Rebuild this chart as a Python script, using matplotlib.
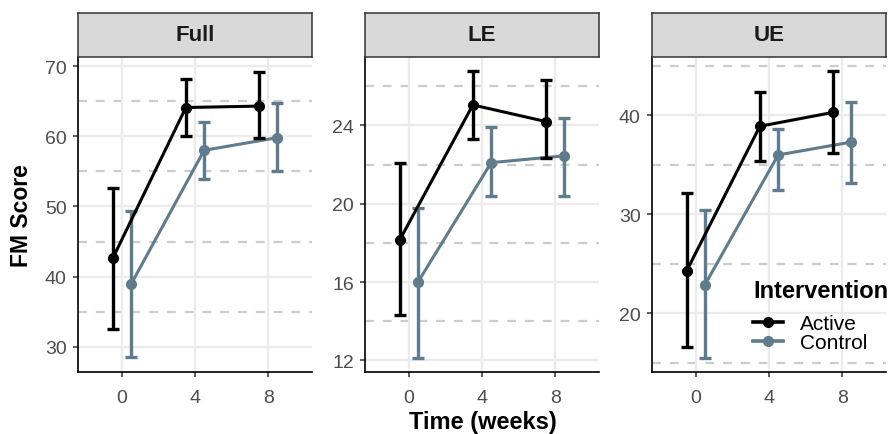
import matplotlib.pyplot as plt
from matplotlib.lines import Line2D

plt.rcParams['font.family'] = ['Liberation Sans', 'DejaVu Sans']

# data
weeks = [0, 4, 8]
panels = ["Full", "LE", "UE"]

full_active = [42.6, 64.1, 64.3]
full_active_lo = [32.5, 60.1, 59.8]
full_active_hi = [52.6, 68.2, 69.2]
full_control = [38.9, 58.0, 59.8]
full_control_lo = [28.5, 53.9, 55.0]
full_control_hi = [49.4, 62.1, 64.7]

le_active = [18.15, 25.05, 24.2]
le_active_lo = [14.3, 23.3, 22.35]
le_active_hi = [22.1, 26.8, 26.3]
le_control = [16.0, 22.1, 22.45]
le_control_lo = [12.1, 20.4, 20.4]
le_control_hi = [19.8, 23.9, 24.4]

ue_active = [24.3, 38.9, 40.3]
ue_active_lo = [16.6, 35.4, 36.2]
ue_active_hi = [32.2, 42.4, 44.5]
ue_control = [22.9, 36.0, 37.3]
ue_control_lo = [15.5, 32.5, 33.2]
ue_control_hi = [30.4, 38.65, 41.4]

ylims = [(26.4, 71.3), (11.4, 27.5), (14.06, 45.9)]
major = [[30, 40, 50, 60, 70], [12, 16, 20, 24], [20, 30, 40]]
minor = [[35, 45, 55, 65], [14, 18, 22, 26], [15, 25, 35, 45]]

groups = [
    (full_active, full_active_lo, full_active_hi, full_control, full_control_lo, full_control_hi),
    (le_active, le_active_lo, le_active_hi, le_control, le_control_lo, le_control_hi),
    (ue_active, ue_active_lo, ue_active_hi, ue_control, ue_control_lo, ue_control_hi),
]

ACTIVE = "#000000"
CONTROL = "#5F7B8C"
dodge = 0.5

fig = plt.figure(figsize=(8.91, 4.35), dpi=100)

lefts = [78, 365, 652]
W, H = 891, 435
pw = 234
ptop, pbot = 58, 373
stop = 14

for i, left in enumerate(lefts):
    ax = fig.add_axes([left / W, 1 - pbot / H, pw / W, (pbot - ptop) / H])
    a, alo, ahi, c, clo, chi = groups[i]

    for y in major[i]:
        ax.axhline(y, color="#EBEBEB", lw=1.6, zorder=0)
    for y in minor[i]:
        ax.axhline(y, color="#CCCCCC", lw=1.6, ls=(0, (4, 4)), zorder=0)
    for x in weeks:
        ax.axvline(x, color="#EBEBEB", lw=1.6, zorder=0)

    xa = [w - dodge for w in weeks]
    xc = [w + dodge for w in weeks]
    ax.errorbar(xa, a, yerr=[[m - l for m, l in zip(a, alo)], [h - m for m, h in zip(a, ahi)]],
                fmt="o-", color=ACTIVE, lw=2.2, ms=7, elinewidth=2.4, capsize=4, capthick=2.4, zorder=3)
    ax.errorbar(xc, c, yerr=[[m - l for m, l in zip(c, clo)], [h - m for m, h in zip(c, chi)]],
                fmt="o-", color=CONTROL, lw=2.2, ms=7, elinewidth=2.4, capsize=4, capthick=2.4, zorder=2)

    ax.set_xlim(-2.4, 10.4)
    ax.set_ylim(*ylims[i])
    ax.set_xticks(weeks)
    ax.set_yticks(major[i])
    ax.tick_params(colors="#333333", labelcolor="#4D4D4D", labelsize=14, length=3.6, width=1.1, pad=4.5)
    ax.tick_params(axis="x", pad=8.5)
    for s in ["top", "right"]:
        ax.spines[s].set_visible(False)
    for s in ["left", "bottom"]:
        ax.spines[s].set_color("black")
        ax.spines[s].set_linewidth(1.2)
    ax.set_facecolor("white")

    sax = fig.add_axes([left / W, 1 - ptop / H, pw / W, (ptop - stop) / H])
    sax.set_facecolor("#D9D9D9")
    sax.set_xticks([])
    sax.set_yticks([])
    for s in sax.spines.values():
        s.set_color("#333333")
        s.set_linewidth(1.1)
    sax.text(0.5, 0.5, panels[i], ha="center", va="center", fontsize=16,
             fontweight="bold", color="#1A1A1A", transform=sax.transAxes)

    if i == 2:
        handles = [Line2D([], [], color=ACTIVE, marker="o", lw=2.6, ms=7),
                   Line2D([], [], color=CONTROL, marker="o", lw=2.6, ms=7)]
        leg = ax.legend(handles, ["Active", "Control"], title="Intervention",
                        loc="upper left", bbox_to_anchor=(753 / W, 1 - 280 / H),
                        bbox_transform=fig.transFigure, frameon=False,
                        fontsize=15, handlelength=1.45, handletextpad=0.8,
                        labelspacing=0.0, borderpad=0, borderaxespad=0)
        leg.get_title().set_fontweight("bold")
        leg.get_title().set_fontsize(17)
        leg._legend_box.align = "left"
        leg._legend_box.sep = 8.5

fig.text(22 / W, 1 - 215.5 / H, "FM Score", rotation=90, ha="center", va="center",
         fontsize=16.5, fontweight="bold")
fig.text(482.5 / W, 1 - 423 / H, "Time (weeks)", ha="center", va="center",
         fontsize=17, fontweight="bold")

fig.savefig("out.png", dpi=100)
